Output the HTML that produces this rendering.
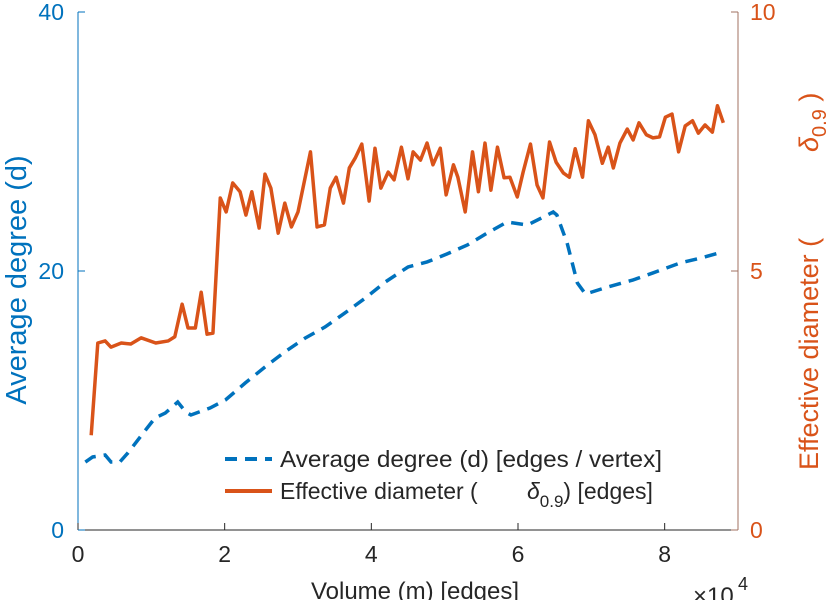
<!DOCTYPE html>
<html><head><meta charset="utf-8"><style>
body{margin:0;background:#fff;}
svg{display:block;font-family:"Liberation Sans",sans-serif;}
</style></head><body>
<svg id="chart" width="829" height="600">
<g id="axes"></g>
<g id="series"></g>
<g id="legend">
  <line x1="225" y1="459" x2="272" y2="459" stroke="#0072BD" stroke-width="4" stroke-dasharray="12,8"/>
  <text x="280" y="467" font-size="23" fill="#262626" textLength="382" lengthAdjust="spacingAndGlyphs">Average degree (d) [edges / vertex]</text>
  <line x1="225" y1="491" x2="272" y2="491" stroke="#D95319" stroke-width="4"/>
  <text x="280" y="499" font-size="23" fill="#262626">Effective diameter (<tspan x="527" font-style="italic">δ</tspan><tspan font-size="17" dy="8">0.9</tspan><tspan dy="-8">) [edges]</tspan></text>
</g>
</svg>
<script>
const xDeg=[0.10,0.20,0.37,0.45,0.57,0.68,0.89,1.05,1.19,1.36,1.47,1.54,1.80,2.01,2.28,2.55,2.82,3.10,3.37,3.64,3.92,4.19,4.50,4.76,5.03,5.31,5.58,5.85,6.13,6.48,6.53,6.67,6.81,6.92,7.22,7.57,7.84,8.21,8.49,8.79];
const yDeg=[5.25,5.64,5.79,5.25,5.25,5.95,7.49,8.65,9.03,9.88,9.11,8.88,9.42,10.04,11.35,12.59,13.75,14.83,15.68,16.76,17.92,19.15,20.31,20.70,21.31,22.01,22.93,23.78,23.55,24.56,24.32,22.16,19.07,18.22,18.76,19.31,19.85,20.62,21.00,21.47];
const xDia=[0.18,0.27,0.37,0.45,0.59,0.72,0.86,1.06,1.23,1.32,1.42,1.50,1.60,1.68,1.76,1.84,1.94,2.02,2.11,2.21,2.29,2.37,2.47,2.55,2.63,2.73,2.82,2.91,3.00,3.17,3.26,3.36,3.44,3.52,3.62,3.70,3.78,3.87,3.97,4.05,4.13,4.23,4.31,4.41,4.50,4.57,4.67,4.76,4.84,4.94,5.02,5.12,5.18,5.28,5.38,5.46,5.55,5.63,5.72,5.81,5.89,5.99,6.07,6.17,6.26,6.34,6.43,6.52,6.62,6.70,6.78,6.88,6.96,7.05,7.15,7.23,7.30,7.39,7.49,7.57,7.65,7.75,7.84,7.93,8.01,8.10,8.19,8.28,8.38,8.46,8.55,8.65,8.72,8.80];
const yDia=[1.83,3.61,3.65,3.53,3.61,3.59,3.71,3.61,3.65,3.73,4.36,3.90,3.90,4.59,3.78,3.80,6.41,6.14,6.70,6.53,6.08,6.53,5.83,6.87,6.60,5.73,6.31,5.85,6.14,7.30,5.85,5.89,6.60,6.81,6.31,6.99,7.18,7.45,6.35,7.37,6.60,6.91,6.76,7.39,6.78,7.30,7.14,7.47,7.05,7.37,6.47,7.05,6.81,6.14,7.30,6.53,7.47,6.56,7.39,6.80,6.81,6.43,6.91,7.45,6.66,6.41,7.49,7.10,6.89,6.81,7.36,6.81,7.90,7.63,7.08,7.39,6.99,7.47,7.74,7.53,7.86,7.63,7.57,7.59,7.97,8.03,7.30,7.80,7.90,7.66,7.82,7.68,8.19,7.86];
const xTicks=[0,2,4,6,8];
const yLeftTicks=[0,20,40];
const yRightTicks=[0,5,10];

const L=78,R=738,T=12,B=530;
const sx=v=>L+(v/9)*(R-L);
const syL=v=>B-(v/40)*(B-T);
const syR=v=>B-(v/10)*(B-T);
const NS='http://www.w3.org/2000/svg';
function mk(tag,attrs,parent,text){const e=document.createElementNS(NS,tag);for(const k in attrs)e.setAttribute(k,attrs[k]);if(text!==undefined)e.textContent=text;parent.appendChild(e);return e;}
const ax=document.getElementById('axes'), se=document.getElementById('series');

let e;
e=mk('line',{x1:L,y1:B,x2:R,y2:B,stroke:'#262626','stroke-width':1},ax);


e=mk('line',{x1:L,y1:T,x2:L,y2:B,stroke:'#0072BD','stroke-width':1},ax);


e=mk('line',{x1:R,y1:T,x2:R,y2:B,stroke:'#A07060','stroke-width':1},ax);



xTicks.forEach(t=>{
  e=mk('line',{x1:sx(t),y1:B,x2:sx(t),y2:B-7,stroke:'#262626'},ax);
  
  
  e=mk('text',{x:sx(t),y:B+32,'font-size':23,fill:'#262626','text-anchor':'middle'},ax,String(t));
  
  
});
yLeftTicks.forEach(t=>{
  e=mk('line',{x1:L,y1:syL(t),x2:L+7,y2:syL(t),stroke:'#0072BD'},ax);
  
  
  e=mk('text',{x:L-14,y:syL(t)+8,'font-size':23,fill:'#0072BD','text-anchor':'end'},ax,String(t));
  
  
});
yRightTicks.forEach(t=>{
  e=mk('line',{x1:R,y1:syR(t),x2:R-7,y2:syR(t),stroke:'#A07060'},ax);
  
  
  e=mk('text',{x:R+12,y:syR(t)+8,'font-size':23,fill:'#D95319','text-anchor':'start'},ax,String(t));
  
  
});
e=mk('text',{x:415,y:599,'font-size':24,fill:'#262626','text-anchor':'middle'},ax,'Volume (m) [edges]');


e=mk('text',{x:693,y:604,'font-size':24,fill:'#262626'},ax,'×10');


e=mk('text',{x:738,y:590,'font-size':18,fill:'#262626'},ax,'4');


e=mk('text',{x:0,y:0,'font-size':29,fill:'#0072BD','text-anchor':'middle',transform:'translate(26,280) rotate(-90)'},ax,'Average degree (d)');


e=mk('text',{x:0,y:0,'font-size':27,fill:'#D95319','text-anchor':'start',transform:'translate(818,470) rotate(-90)'},ax);
e.innerHTML='Effective diameter (<tspan x="318" font-style="italic">δ</tspan><tspan font-size="20" dy="8">0.9</tspan><tspan dy="-8"> )</tspan>';



e=mk('polyline',{points:xDia.map((x,i)=>sx(x)+','+syR(yDia[i])).join(' '),fill:'none',stroke:'#D95319','stroke-width':3.5,'stroke-linejoin':'round'},se);


e=mk('polyline',{points:xDeg.map((x,i)=>sx(x)+','+syL(yDeg[i])).join(' '),fill:'none',stroke:'#0072BD','stroke-width':3.5,'stroke-dasharray':'12,8'},se);


</script>
</body></html>
